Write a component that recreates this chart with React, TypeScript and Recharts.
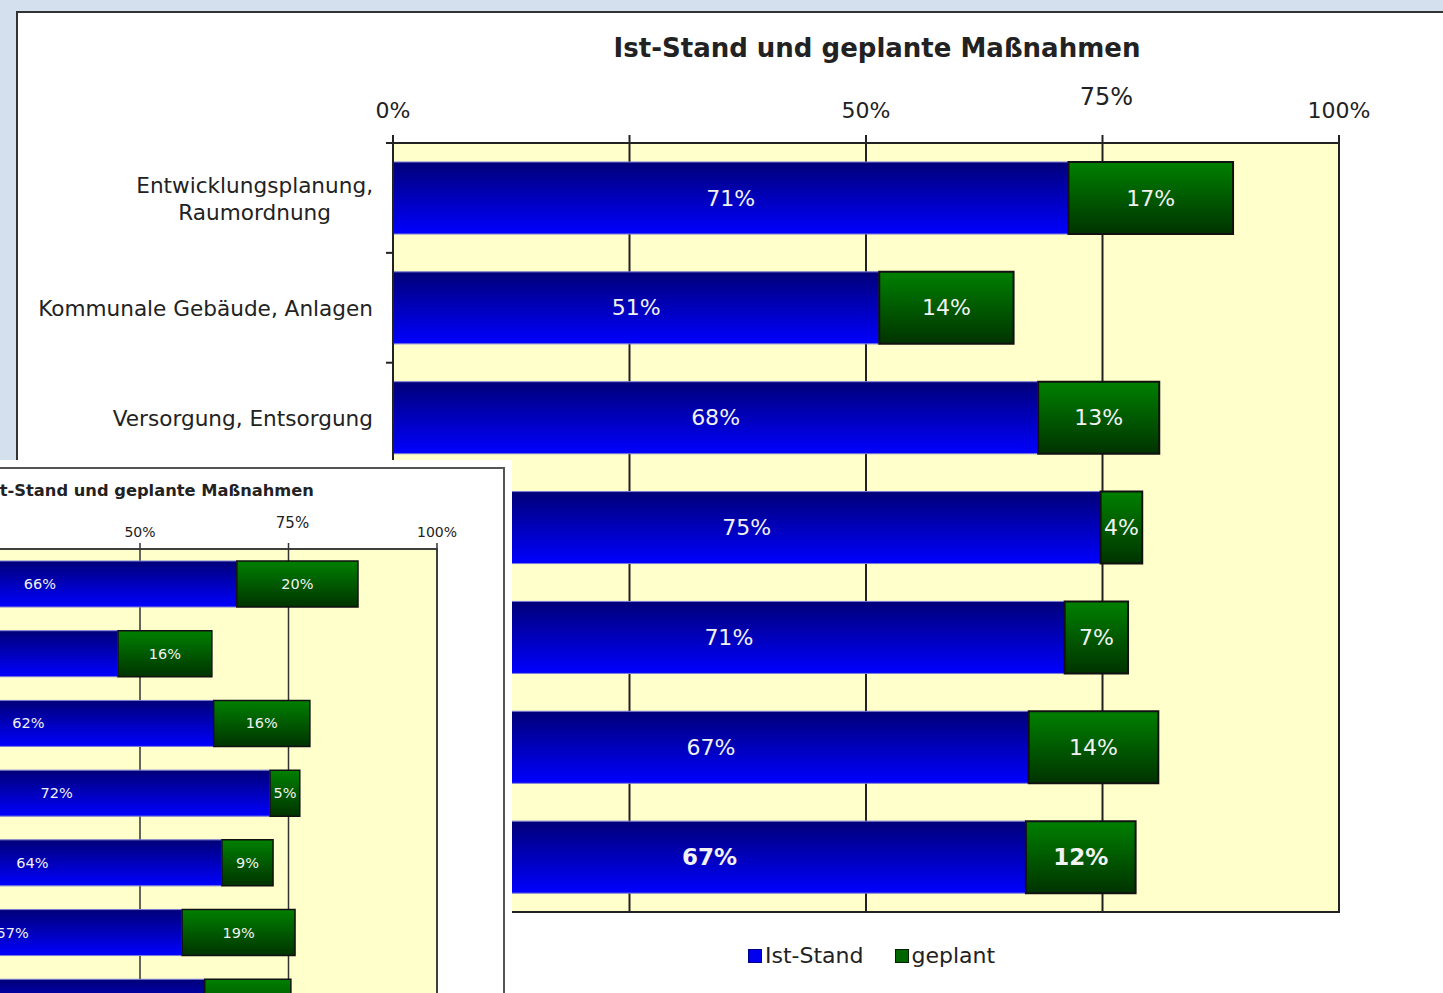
import React from 'react'
import {
  BarChart,
  Bar,
  XAxis,
  YAxis,
  CartesianGrid,
  LabelList,
  ReferenceArea,
} from 'recharts'

const categories = [
  'Entwicklungsplanung, Raumordnung',
  'Kommunale Gebäude, Anlagen',
  'Versorgung, Entsorgung',
  'Mobilität',
  'Interne Organisation',
  'Kommunikation, Kooperation',
  'Gesamt',
]
const istMain = [71.4, 51.4, 68.2, 74.8, 71.0, 67.2, 66.9]
const geplantMain = [17.4, 14.2, 12.8, 4.4, 6.7, 13.7, 11.6]
const istInset = [66.3, 46.3, 62.4, 71.9, 63.8, 57.1, 60.9]
const geplantInset = [20.4, 15.8, 16.2, 5.0, 8.6, 19.0, 14.5]
const pctTicks = [0, 25, 50, 75, 100]

const FONT = '"DejaVu Sans", Verdana, sans-serif'
const TITLE = 'Ist-Stand und geplante Maßnahmen'

const mainData = categories.map((name, i) => ({
  name,
  ist: istMain[i],
  geplant: geplantMain[i],
}))
const insetData = categories.map((name, i) => ({
  name,
  ist: istInset[i],
  geplant: geplantInset[i],
}))

const MAIN_BAND = 769 / categories.length

let ctx: CanvasRenderingContext2D | null = null
function measure(text: string, size: number) {
  if (!ctx) ctx = document.createElement('canvas').getContext('2d')
  if (!ctx) return text.length * size * 0.6
  ctx.font = `${size}px ${FONT}`
  return ctx.measureText(text).width
}

function CategoryTick(props: any) {
  const { x, y, payload, index } = props
  const label: string = payload.value
  const cut = label.indexOf(',')
  const lines = label.length > 28 ? [label.slice(0, cut + 1), label.slice(cut + 2)] : [label]
  const size = 21.6
  const maxW = Math.max(...lines.map((l) => measure(l, size)))
  const cx = x - 20 - maxW / 2
  const top = y - MAIN_BAND / 2
  return (
    <g>
      <line x1={x - 7} x2={x} y1={top} y2={top} stroke="#222" strokeWidth={2} />
      {index === categories.length - 1 && (
        <line x1={x - 7} x2={x} y1={top + MAIN_BAND} y2={top + MAIN_BAND} stroke="#222" strokeWidth={2} />
      )}
      <text textAnchor="middle" fontFamily={FONT} fontSize={size} fill="#222">
        {lines.map((l, i) => (
          <tspan key={i} x={cx} y={y + 8.5 + (i - (lines.length - 1) / 2) * 27}>
            {l}
          </tspan>
        ))}
      </text>
    </g>
  )
}

function makePctTick(size: number, bigSize: number, dy: number, bigDy: number) {
  return function PctTick(props: any) {
    const { x, y, payload } = props
    const v = payload.value
    if (v === 25) return <g />
    const big = v === 75
    return (
      <text
        x={big ? x + 4 : x}
        y={y - (big ? bigDy : dy)}
        textAnchor="middle"
        fontFamily={FONT}
        fontSize={big ? bigSize : size}
        fill="#222"
      >
        {v}%
      </text>
    )
  }
}

function makeValueLabel(size: number) {
  return function ValueLabel(props: any) {
    const { x, y, width, height, value, index } = props
    const total = index === categories.length - 1
    return (
      <text
        x={x + width / 2}
        y={y + height / 2}
        textAnchor="middle"
        dominantBaseline="central"
        fontFamily={FONT}
        fontSize={total ? size + 1 : size}
        fontWeight={total ? 'bold' : 'normal'}
        fill="#f2f2f2"
      >
        {Math.round(value)}%
      </text>
    )
  }
}

function Gradients({ id }: { id: string }) {
  return (
    <defs>
      <linearGradient id={`blue-${id}`} x1="0" y1="0" x2="0" y2="1">
        <stop offset="0%" stopColor="#000078" />
        <stop offset="100%" stopColor="#0000ff" />
      </linearGradient>
      <linearGradient id={`green-${id}`} x1="0" y1="0" x2="0" y2="1">
        <stop offset="0%" stopColor="#008000" />
        <stop offset="100%" stopColor="#003300" />
      </linearGradient>
    </defs>
  )
}

export default function App() {
  return (
    <div
      style={{
        position: 'relative',
        width: 1443,
        height: 993,
        overflow: 'hidden',
        background: '#d5e0ee',
        fontFamily: FONT,
      }}
    >
      <style>{'body{margin:0}'}</style>

      {/* main chart frame */}
      <div
        style={{
          position: 'absolute',
          left: 16,
          top: 11,
          width: 1500,
          height: 1100,
          background: '#fff',
          borderLeft: '2px solid #333',
          borderTop: '2px solid #333',
        }}
      />
      <div
        style={{
          position: 'absolute',
          left: 0,
          width: 1754,
          top: 33,
          textAlign: 'center',
          fontSize: 26,
          fontWeight: 'bold',
          color: '#222',
        }}
      >
        {TITLE}
      </div>

      <div style={{ position: 'absolute', left: 0, top: 0 }}>
        <BarChart
          width={1443}
          height={993}
          data={mainData}
          layout="vertical"
          margin={{ top: 103, right: 104, bottom: 81, left: 0 }}
        >
          <Gradients id="main" />
          <CartesianGrid horizontal={false} stroke="#222" strokeWidth={2} fill="#ffffcc" />
          <XAxis
            type="number"
            orientation="top"
            domain={[0, 100]}
            ticks={pctTicks}
            height={40}
            tickSize={8}
            tickMargin={0}
            axisLine={{ stroke: '#222', strokeWidth: 2 }}
            tickLine={{ stroke: '#222', strokeWidth: 2 }}
            tick={makePctTick(22, 24, 17, 30)}
          />
          <YAxis
            type="category"
            dataKey="name"
            width={393}
            tickSize={0}
            tickMargin={0}
            tickLine={false}
            axisLine={{ stroke: '#222', strokeWidth: 2 }}
            tick={CategoryTick}
            interval={0}
          />
          <ReferenceArea x1={0} x2={100} fill="none" stroke="#222" strokeWidth={2} />
          <Bar dataKey="ist" stackId="a" barSize={72} fill="url(#blue-main)" stroke="#7b7bd6" strokeWidth={1} isAnimationActive={false}>
            <LabelList dataKey="ist" content={makeValueLabel(22)} />
          </Bar>
          <Bar dataKey="geplant" stackId="a" barSize={72} fill="url(#green-main)" stroke="#111" strokeWidth={2} isAnimationActive={false}>
            <LabelList dataKey="geplant" content={makeValueLabel(22)} />
          </Bar>
        </BarChart>
      </div>

      {/* legend */}
      <div
        style={{
          position: 'absolute',
          left: 748,
          top: 943,
          display: 'flex',
          alignItems: 'center',
          fontSize: 22,
          color: '#222',
          whiteSpace: 'nowrap',
        }}
      >
        <span style={{ width: 12, height: 12, background: '#0000ee', border: '1px solid #000088', marginRight: 3 }} />
        <span style={{ marginRight: 31 }}>Ist-Stand</span>
        <span style={{ width: 12, height: 12, background: '#006600', border: '1px solid #002200', marginRight: 3 }} />
        <span>geplant</span>
      </div>

      {/* inset chart */}
      <div style={{ position: 'absolute', left: 0, top: 460, width: 512, height: 533, background: '#fff' }} />
      <div
        style={{
          position: 'absolute',
          left: -300,
          top: 467,
          width: 805,
          height: 700,
          boxSizing: 'border-box',
          border: '2px solid #555',
          background: '#fff',
        }}
      />
      <div
        style={{
          position: 'absolute',
          left: -200,
          width: 698,
          top: 481,
          textAlign: 'center',
          fontSize: 16.3,
          fontWeight: 'bold',
          color: '#222',
        }}
      >
        {TITLE}
      </div>
      <div style={{ position: 'absolute', left: -200, top: 467 }}>
        <BarChart
          width={705}
          height={608}
          data={insetData}
          layout="vertical"
          margin={{ top: 52, right: 68, bottom: 38, left: 43 }}
        >
          <Gradients id="inset" />
          <CartesianGrid horizontal={false} stroke="#333" strokeWidth={1.5} fill="#ffffcc" />
          <XAxis
            type="number"
            orientation="top"
            domain={[0, 100]}
            ticks={pctTicks}
            height={30}
            tickSize={6}
            tickMargin={0}
            axisLine={{ stroke: '#333', strokeWidth: 1.5 }}
            tickLine={{ stroke: '#333', strokeWidth: 1.5 }}
            tick={makePctTick(14, 15, 6, 15)}
          />
          <YAxis type="category" dataKey="name" hide />
          <ReferenceArea x1={0} x2={100} fill="none" stroke="#333" strokeWidth={1.5} />
          <Bar dataKey="ist" stackId="a" barSize={46} fill="url(#blue-inset)" stroke="#7b7bd6" strokeWidth={1} isAnimationActive={false}>
            <LabelList dataKey="ist" content={makeValueLabel(14.5)} />
          </Bar>
          <Bar dataKey="geplant" stackId="a" barSize={46} fill="url(#green-inset)" stroke="#111" strokeWidth={1.5} isAnimationActive={false}>
            <LabelList dataKey="geplant" content={makeValueLabel(14.5)} />
          </Bar>
        </BarChart>
      </div>
    </div>
  )
}
